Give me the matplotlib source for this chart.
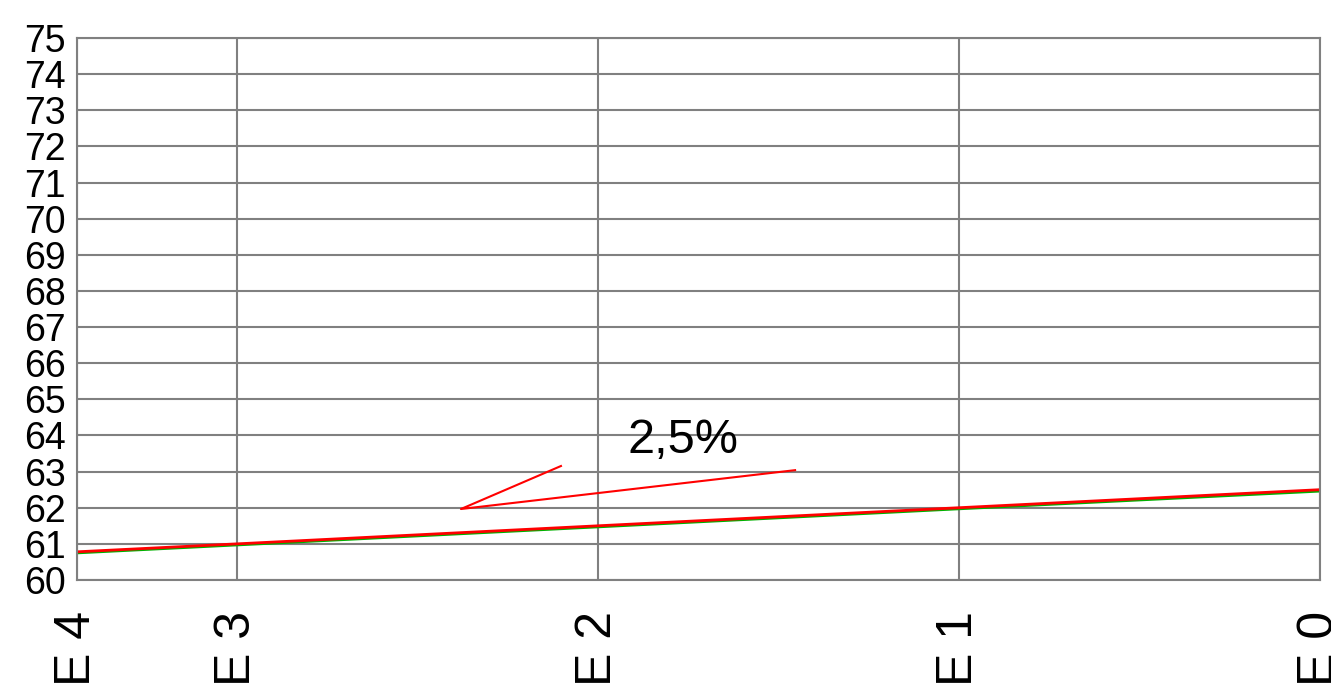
import matplotlib
matplotlib.use("Agg")
import matplotlib.pyplot as plt

plt.rcParams['font.family'] = ['Liberation Sans', 'DejaVu Sans']

# estacas e distancias (m)
estacas = ["E 4", "E 3", "E 2", "E 1", "E 0"]
distancias = [0, 8.86, 28.86, 48.86, 68.86]

# cotas (m)
cota_terreno = [60.75, 60.97, 61.47, 61.97, 62.46]   # verde
cota_projeto = [60.78, 61.0, 61.5, 62.0, 62.5]       # vermelho

# seta de inclinacao
seta_x = [26.81, 21.27, 39.78]
seta_y = [63.155, 61.965, 63.04]
rotulo = "2,5%"

fig = plt.figure(figsize=(13.31, 6.85), dpi=100)
ax = fig.add_axes([0.05785, 0.15328, 0.9339, 0.7912])

ax.plot(distancias, cota_terreno, color="#00b000", lw=2)
ax.plot(distancias, cota_projeto, color="red", lw=2)
ax.plot(seta_x, seta_y, color="red", lw=1.5)
ax.text(33.57, 63.85, rotulo, fontsize=35, ha="center", va="center")

ax.set_xlim(distancias[0], distancias[-1])
ax.set_ylim(60, 75)
ax.set_yticks(range(60, 76))
ax.set_xticks(distancias)
ax.set_xticklabels(estacas, rotation=90, fontsize=36, va="top")
ax.tick_params(axis="y", labelsize=27, length=0, pad=8)
ax.tick_params(axis="x", length=0, pad=22)
ax.grid(True, color="#808080", lw=1.5)
ax.set_axisbelow(True)
for s in ax.spines.values():
    s.set_color("#808080")
    s.set_linewidth(1.5)

fig.savefig("out.png", dpi=100)
